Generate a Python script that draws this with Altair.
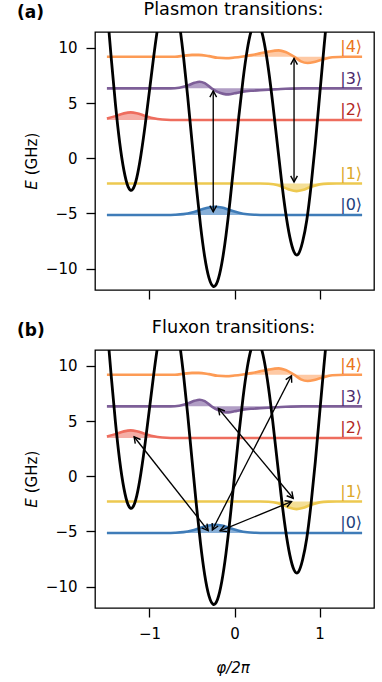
import math
import altair as alt
import pandas as pd

FONT = "DejaVu Sans"
XDOM = [-1.64, 1.64]
YDOM = [-11.95, 11.45]
W, H = 279, 258

# ---- potential ----
phi = [-1.5, -1.45, -1.4, -1.35, -1.3, -1.25, -1.2, -1.15, -1.1, -1.05, -1.0,
       -0.95, -0.9, -0.85, -0.8, -0.75, -0.7, -0.65, -0.6, -0.55, -0.5,
       -0.45, -0.4, -0.35, -0.3, -0.25, -0.2, -0.15, -0.1, -0.05, 0.0,
       0.05, 0.1, 0.15, 0.2, 0.25, 0.3, 0.35, 0.4, 0.45, 0.5,
       0.55, 0.6, 0.65, 0.7, 0.75, 0.8, 0.85, 0.9, 0.95, 1.0, 1.05, 1.1, 1.15]
pot = [13.75, 9.14, 4.92, 1.43, -1.1, -2.6, -2.85, -1.8, 0.3, 3.03, 6.11,
       9.22, 12.0, 14.12, 15.32, 15.44, 14.4, 12.29, 9.25, 5.56, 1.53,
       -2.47, -6.07, -8.96, -10.86, -11.62, -11.17, -9.57, -6.99, -3.69, 0.0,
       3.72, 7.11, 9.85, 11.66, 12.38, 11.96, 10.46, 8.03, 4.95, 1.53,
       -1.86, -4.85, -7.13, -8.5, -8.7, -7.6, -5.6, -2.5, 1.3, 5.6, 9.9, 14.0, 17.8]

# ---- levels and wavefunction offsets (GHz) ----
levels = [-5.15, -2.29, 3.47, 6.34, 9.21]
label_texts = ["|0⟩", "|1⟩", "|2⟩", "|3⟩", "|4⟩"]
line_colors = ["#3f7cb8", "#edc950", "#ee6d5e", "#7d5f98", "#fd9b55"]
fill_colors = ["#7aa6d4", "#f3dc8c", "#f4a59c", "#a994bf", "#fec39a"]
label_colors = ["#1d3f7d", "#dca92a", "#b3281f", "#4c2a6b", "#ea7420"]

psi_x = [
    [-1.5, -0.8, -0.7, -0.6, -0.5, -0.4, -0.3, -0.23, -0.15, -0.05, 0.05, 0.15, 0.25, 0.35, 1.5],
    [-1.5, 0.3, 0.4, 0.5, 0.6, 0.65, 0.73, 0.8, 0.9, 1.0, 1.1, 1.2, 1.5],
    [-1.5, -1.4, -1.3, -1.22, -1.15, -1.05, -0.95, -0.85, -0.75, 1.5],
    [-1.5, -0.75, -0.65, -0.55, -0.47, -0.41, -0.35, -0.27, -0.2, -0.13, -0.07, 0.0, 0.1, 0.2, 0.3, 0.45, 0.6, 0.8, 1.5],
    [-1.5, -0.7, -0.6, -0.5, -0.42, -0.3, -0.2, -0.1, 0.0, 0.1, 0.2, 0.3, 0.4, 0.52, 0.6, 0.7, 0.78, 0.86, 0.95, 1.03, 1.15, 1.3, 1.5],
]
psi_v = [
    [0, 0, 0.02, 0.08, 0.23, 0.47, 0.69, 0.75, 0.68, 0.44, 0.21, 0.07, 0.02, 0, 0],
    [0, 0, -0.03, -0.14, -0.42, -0.57, -0.69, -0.6, -0.29, -0.08, -0.01, 0, 0],
    [0.13, 0.35, 0.6, 0.69, 0.62, 0.37, 0.15, 0.04, 0, 0],
    [0, 0, 0.06, 0.25, 0.5, 0.6, 0.47, 0.0, -0.32, -0.5, -0.55, -0.45, -0.3, -0.22, -0.17, -0.1, -0.04, 0, 0],
    [0, 0, 0.08, 0.17, 0.18, 0.05, -0.1, -0.14, -0.08, 0.02, 0.14, 0.3, 0.46, 0.57, 0.42, 0.0, -0.42, -0.57, -0.45, -0.27, -0.05, 0, 0],
]

# ---- arrows (x1, y1, x2, y2), heads at both ends ----
arrows_a = [(-0.25, -4.85, -0.25, 6.1), (0.70, -2.15, 0.70, 9.05)]
arrows_b = [(-0.31, -4.93, -1.18, 3.58), (-0.19, 6.15, 0.69, -2.0),
            (-0.26, -4.87, 0.67, 9.12), (-0.17, -4.95, 0.67, -2.3)]

# ---- tables ----
rows = []
for i, E in enumerate(levels):
    for x, v in zip(psi_x[i], psi_v[i]):
        rows.append({"state": str(i), "x": x, "y": E + v, "base": E,
                     "lc": line_colors[i], "fc": fill_colors[i]})
wf = pd.DataFrame(rows)
pot_df = pd.DataFrame({"x": phi, "y": pot})
lab_df = pd.DataFrame({"x": [1.5] * 5, "y": [E + 0.87 for E in levels],
                       "t": label_texts, "c": label_colors})

sx = W / (XDOM[1] - XDOM[0])
sy = H / (YDOM[1] - YDOM[0])


def head_angle(xf, yf, xt, yt):
    dx = (xt - xf) * sx
    dy = (yt - yf) * sy
    return math.degrees(math.atan2(dx, dy)) % 360


def arrow_tables(arrows):
    seg = pd.DataFrame([{"x": a[0], "y": a[1], "x2": a[2], "y2": a[3]} for a in arrows])
    heads = []
    for (x1, y1, x2, y2) in arrows:
        heads.append({"x": x2, "y": y2, "ang": head_angle(x1, y1, x2, y2)})
        heads.append({"x": x1, "y": y1, "ang": head_angle(x2, y2, x1, y1)})
    return seg, pd.DataFrame(heads)


def xenc(show_labels):
    return alt.X("x:Q", scale=alt.Scale(domain=XDOM, nice=False, zero=False),
                 axis=alt.Axis(values=[-1, 0, 1], labels=show_labels, title=None,
                               format="d"))


def yenc(field="y"):
    return alt.Y(f"{field}:Q", scale=alt.Scale(domain=YDOM, nice=False, zero=False),
                 axis=alt.Axis(values=[-10, -5, 0, 5, 10], title=None, format="d"))


CHEVRON = "M -0.55 1 L 0 0 L 0.55 1"


def panel(tag, title, arrows, show_labels):
    X = xenc(show_labels)
    fills = alt.Chart(wf).mark_area(interpolate="monotone", opacity=0.9).encode(
        x=X, y=yenc(), y2=alt.Y2("base:Q"), color=alt.Color("fc:N", scale=None),
        detail="state:N")
    lines = alt.Chart(wf).mark_line(interpolate="monotone", strokeWidth=2.6).encode(
        x=X, y=yenc(), color=alt.Color("lc:N", scale=None), detail="state:N")
    potl = alt.Chart(pot_df).mark_line(interpolate="natural", color="black",
                                       strokeWidth=2.8, clip=True).encode(x=X, y=yenc())
    seg, heads = arrow_tables(arrows)
    rules = alt.Chart(seg).mark_rule(color="black", strokeWidth=1.35).encode(
        x=X, y=yenc(), x2="x2:Q", y2="y2:Q")
    hd = alt.Chart(heads).mark_point(shape=CHEVRON, filled=False, stroke="black",
                                     strokeWidth=1.4, size=150, opacity=1).encode(
        x=X, y=yenc(), angle=alt.Angle("ang:Q", scale=None))
    labs = alt.Chart(lab_df).mark_text(align="right", baseline="middle", font=FONT,
                                       fontSize=16).encode(
        x=X, y=yenc(), text="t:N", color=alt.Color("c:N", scale=None))
    one = pd.DataFrame({"k": [0]})
    ttl = alt.Chart(one).mark_text(align="center", baseline="alphabetic", font=FONT,
                                   fontSize=17.7, text=title, color="black").encode(
        x=alt.value(W / 2 - 1), y=alt.value(-17))
    tg = alt.Chart(one).mark_text(align="left", baseline="middle", font=FONT,
                                  fontSize=17, fontWeight="bold", text=tag,
                                  color="black").encode(
        x=alt.value(-78), y=alt.value(-19))
    ye = alt.Chart(one).mark_text(align="center", baseline="middle", font=FONT,
                                  fontSize=15, fontStyle="italic", text="E",
                                  angle=270, color="black").encode(
        x=alt.value(-63), y=alt.value(153))
    yg = alt.Chart(one).mark_text(align="center", baseline="middle", font=FONT,
                                  fontSize=15, text="(GHz)", angle=270,
                                  color="black").encode(
        x=alt.value(-63), y=alt.value(122))
    layers = [fills, lines, potl, rules, hd, labs, ttl, tg, ye, yg]
    if show_labels:
        xt = alt.Chart(one).mark_text(align="center", baseline="middle", font=FONT,
                                      fontSize=15, text="φ/2π", fontStyle="italic",
                                      color="black").encode(
            x=alt.value(138), y=alt.value(318))
        layers.append(xt)
    return alt.layer(*layers).properties(width=W, height=H)


pa = panel("(a)", "Plasmon transitions:", arrows_a, False)
pb = panel("(b)", "Fluxon transitions:", arrows_b, True)

chart = alt.vconcat(pa, pb, spacing=60, bounds="flush").properties(
    padding={"left": 16, "top": 0, "right": 0, "bottom": 0}
).configure_view(stroke="black", strokeWidth=1.3).configure_axis(
    labelFont=FONT, labelFontSize=15, labelColor="black", tickColor="black",
    tickSize=9, tickWidth=1.3, domain=False, grid=False, labelPadding=9
)

chart.save("out.html", embed_options={"renderer": "svg", "actions": False})
